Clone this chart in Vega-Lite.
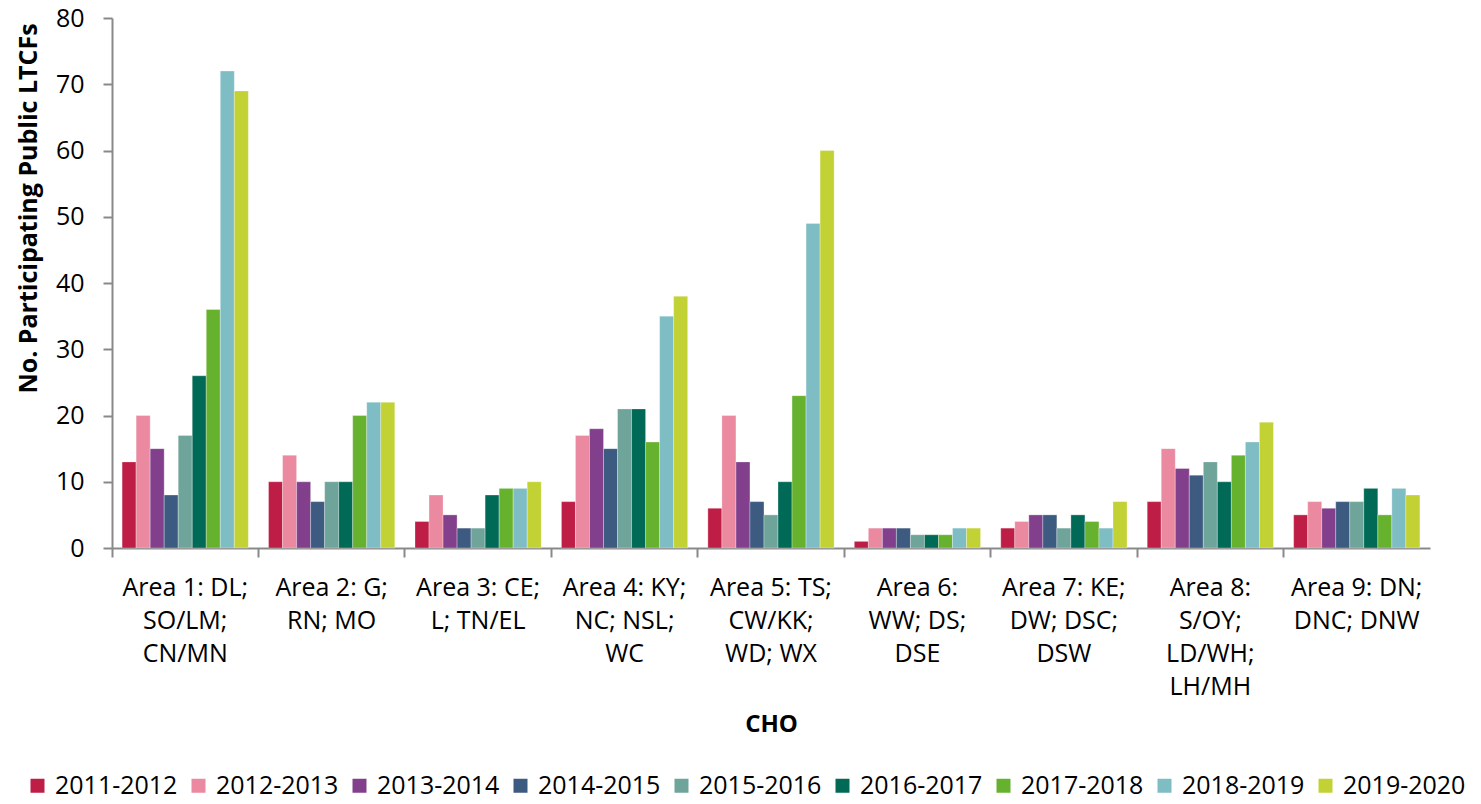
{
  "$schema": "https://vega.github.io/schema/vega-lite/v6.json",
  "autosize": {"type": "none"},
  "width": 1318,
  "height": 530,
  "padding": {"left": 112, "top": 18, "right": 51, "bottom": 256},
  "background": "white",
  "config": {
    "view": {"stroke": null},
    "font": "Open Sans"
  },
  "data": {
    "values": [
      {"cho": "Area 1", "year": "2011-2012", "n": 13},
      {"cho": "Area 1", "year": "2012-2013", "n": 20},
      {"cho": "Area 1", "year": "2013-2014", "n": 15},
      {"cho": "Area 1", "year": "2014-2015", "n": 8},
      {"cho": "Area 1", "year": "2015-2016", "n": 17},
      {"cho": "Area 1", "year": "2016-2017", "n": 26},
      {"cho": "Area 1", "year": "2017-2018", "n": 36},
      {"cho": "Area 1", "year": "2018-2019", "n": 72},
      {"cho": "Area 1", "year": "2019-2020", "n": 69},
      {"cho": "Area 2", "year": "2011-2012", "n": 10},
      {"cho": "Area 2", "year": "2012-2013", "n": 14},
      {"cho": "Area 2", "year": "2013-2014", "n": 10},
      {"cho": "Area 2", "year": "2014-2015", "n": 7},
      {"cho": "Area 2", "year": "2015-2016", "n": 10},
      {"cho": "Area 2", "year": "2016-2017", "n": 10},
      {"cho": "Area 2", "year": "2017-2018", "n": 20},
      {"cho": "Area 2", "year": "2018-2019", "n": 22},
      {"cho": "Area 2", "year": "2019-2020", "n": 22},
      {"cho": "Area 3", "year": "2011-2012", "n": 4},
      {"cho": "Area 3", "year": "2012-2013", "n": 8},
      {"cho": "Area 3", "year": "2013-2014", "n": 5},
      {"cho": "Area 3", "year": "2014-2015", "n": 3},
      {"cho": "Area 3", "year": "2015-2016", "n": 3},
      {"cho": "Area 3", "year": "2016-2017", "n": 8},
      {"cho": "Area 3", "year": "2017-2018", "n": 9},
      {"cho": "Area 3", "year": "2018-2019", "n": 9},
      {"cho": "Area 3", "year": "2019-2020", "n": 10},
      {"cho": "Area 4", "year": "2011-2012", "n": 7},
      {"cho": "Area 4", "year": "2012-2013", "n": 17},
      {"cho": "Area 4", "year": "2013-2014", "n": 18},
      {"cho": "Area 4", "year": "2014-2015", "n": 15},
      {"cho": "Area 4", "year": "2015-2016", "n": 21},
      {"cho": "Area 4", "year": "2016-2017", "n": 21},
      {"cho": "Area 4", "year": "2017-2018", "n": 16},
      {"cho": "Area 4", "year": "2018-2019", "n": 35},
      {"cho": "Area 4", "year": "2019-2020", "n": 38},
      {"cho": "Area 5", "year": "2011-2012", "n": 6},
      {"cho": "Area 5", "year": "2012-2013", "n": 20},
      {"cho": "Area 5", "year": "2013-2014", "n": 13},
      {"cho": "Area 5", "year": "2014-2015", "n": 7},
      {"cho": "Area 5", "year": "2015-2016", "n": 5},
      {"cho": "Area 5", "year": "2016-2017", "n": 10},
      {"cho": "Area 5", "year": "2017-2018", "n": 23},
      {"cho": "Area 5", "year": "2018-2019", "n": 49},
      {"cho": "Area 5", "year": "2019-2020", "n": 60},
      {"cho": "Area 6", "year": "2011-2012", "n": 1},
      {"cho": "Area 6", "year": "2012-2013", "n": 3},
      {"cho": "Area 6", "year": "2013-2014", "n": 3},
      {"cho": "Area 6", "year": "2014-2015", "n": 3},
      {"cho": "Area 6", "year": "2015-2016", "n": 2},
      {"cho": "Area 6", "year": "2016-2017", "n": 2},
      {"cho": "Area 6", "year": "2017-2018", "n": 2},
      {"cho": "Area 6", "year": "2018-2019", "n": 3},
      {"cho": "Area 6", "year": "2019-2020", "n": 3},
      {"cho": "Area 7", "year": "2011-2012", "n": 3},
      {"cho": "Area 7", "year": "2012-2013", "n": 4},
      {"cho": "Area 7", "year": "2013-2014", "n": 5},
      {"cho": "Area 7", "year": "2014-2015", "n": 5},
      {"cho": "Area 7", "year": "2015-2016", "n": 3},
      {"cho": "Area 7", "year": "2016-2017", "n": 5},
      {"cho": "Area 7", "year": "2017-2018", "n": 4},
      {"cho": "Area 7", "year": "2018-2019", "n": 3},
      {"cho": "Area 7", "year": "2019-2020", "n": 7},
      {"cho": "Area 8", "year": "2011-2012", "n": 7},
      {"cho": "Area 8", "year": "2012-2013", "n": 15},
      {"cho": "Area 8", "year": "2013-2014", "n": 12},
      {"cho": "Area 8", "year": "2014-2015", "n": 11},
      {"cho": "Area 8", "year": "2015-2016", "n": 13},
      {"cho": "Area 8", "year": "2016-2017", "n": 10},
      {"cho": "Area 8", "year": "2017-2018", "n": 14},
      {"cho": "Area 8", "year": "2018-2019", "n": 16},
      {"cho": "Area 8", "year": "2019-2020", "n": 19},
      {"cho": "Area 9", "year": "2011-2012", "n": 5},
      {"cho": "Area 9", "year": "2012-2013", "n": 7},
      {"cho": "Area 9", "year": "2013-2014", "n": 6},
      {"cho": "Area 9", "year": "2014-2015", "n": 7},
      {"cho": "Area 9", "year": "2015-2016", "n": 7},
      {"cho": "Area 9", "year": "2016-2017", "n": 9},
      {"cho": "Area 9", "year": "2017-2018", "n": 5},
      {"cho": "Area 9", "year": "2018-2019", "n": 9},
      {"cho": "Area 9", "year": "2019-2020", "n": 8}
    ]
  },
  "mark": {"type": "bar", "stroke": "#ffffff", "strokeWidth": 0.6, "strokeOpacity": 0.5},
  "encoding": {
    "x": {
      "field": "cho",
      "type": "nominal",
      "sort": null,
      "scale": {"paddingInner": 0, "paddingOuter": 0},
      "axis": {
        "title": "CHO",
        "titleFontSize": 24,
        "titleFontWeight": "bold",
        "titleColor": "#000000",
        "titleY": 176,
        "titleBaseline": "middle",
        "labelAngle": 0,
        "labelFontSize": 25,
        "labelColor": "#000000",
        "labelBaseline": "top",
        "labelPadding": 18,
        "labelLineHeight": 33,
        "bandPosition": 0,
        "domainColor": "#898989",
        "domainWidth": 2,
        "tickColor": "#898989",
        "tickWidth": 2,
        "tickSize": 9,
        "labelExpr": "({'Area 1': ['Area 1: DL;', 'SO/LM;', 'CN/MN'], 'Area 2': ['Area 2: G;', 'RN; MO'], 'Area 3': ['Area 3: CE;', 'L; TN/EL'], 'Area 4': ['Area 4: KY;', 'NC; NSL;', 'WC'], 'Area 5': ['Area 5: TS;', 'CW/KK;', 'WD; WX'], 'Area 6': ['Area 6:', 'WW; DS;', 'DSE'], 'Area 7': ['Area 7: KE;', 'DW; DSC;', 'DSW'], 'Area 8': ['Area 8:', 'S/OY;', 'LD/WH;', 'LH/MH'], 'Area 9': ['Area 9: DN;', 'DNC; DNW']})[datum.value]"
      }
    },
    "xOffset": {
      "field": "year",
      "type": "nominal",
      "sort": null,
      "scale": {"paddingInner": 0, "paddingOuter": 0.72}
    },
    "y": {
      "field": "n",
      "type": "quantitative",
      "scale": {"domain": [0, 80]},
      "axis": {
        "title": "No. Participating Public LTCFs",
        "titleFontSize": 25,
        "titleFontWeight": "bold",
        "titleColor": "#000000",
        "titleX": -84,
        "titleY": 190,
        "titleAngle": 270,
        "titleAlign": "center",
        "titleBaseline": "middle",
        "values": [0, 10, 20, 30, 40, 50, 60, 70, 80],
        "labelOverlap": false,
        "grid": false,
        "labelFontSize": 25,
        "labelColor": "#000000",
        "labelPadding": 19,
        "domainColor": "#898989",
        "domainWidth": 2,
        "tickColor": "#898989",
        "tickWidth": 2,
        "tickSize": 9
      }
    },
    "color": {
      "field": "year",
      "type": "nominal",
      "scale": {
        "domain": ["2011-2012", "2012-2013", "2013-2014", "2014-2015", "2015-2016", "2016-2017", "2017-2018", "2018-2019", "2019-2020"],
        "range": ["#BE1E45", "#EA89A0", "#82408C", "#3D5A80", "#6FA49A", "#006A56", "#66B22E", "#7DBDC3", "#C2D234"]
      },
      "legend": {
        "title": null,
        "orient": "none",
        "direction": "horizontal",
        "columns": 9,
        "legendX": -87,
        "legendY": 755,
        "padding": 0,
        "symbolType": "square",
        "symbolSize": 196,
        "symbolStrokeWidth": 0,
        "labelFontSize": 25,
        "labelColor": "#000000",
        "labelOffset": 5,
        "columnPadding": 8
      }
    }
  }
}
